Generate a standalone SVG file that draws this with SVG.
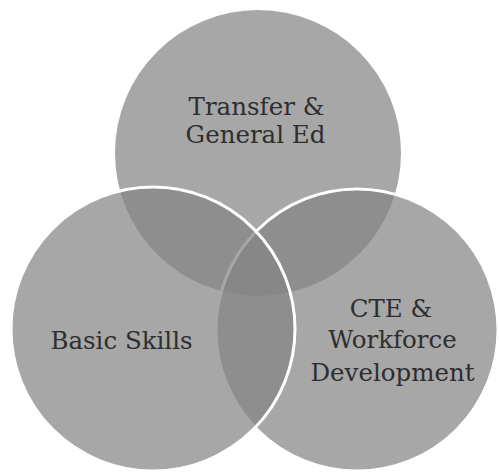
<svg xmlns="http://www.w3.org/2000/svg" width="499" height="473" viewBox="0 0 499 473">
  <style>
    .circle { fill: #858585; fill-opacity: 0.72; }
    .edge { stroke: #ffffff; stroke-width: 3; }
    .label { font-family: "DejaVu Serif", "Liberation Serif", serif; font-size: 24.5px; fill: #2e2e2e; text-anchor: middle; }
  </style>
  <rect width="499" height="473" fill="#ffffff"/>
  <g id="node-transfer">
    <circle class="circle" cx="258" cy="153" r="143"/>
    <text class="label" x="256.5" y="115">Transfer &amp;</text>
    <text class="label" x="255.5" y="143">General Ed</text>
  </g>
  <g id="node-cte">
    <circle class="circle edge" cx="357" cy="330" r="141"/>
    <text class="label" x="391" y="317">CTE &amp;</text>
    <text class="label" x="392.5" y="348">Workforce</text>
    <text class="label" x="392.5" y="381">Development</text>
  </g>
  <g id="node-basic">
    <circle class="circle edge" cx="153" cy="329" r="142"/>
    <text class="label" x="121.5" y="349">Basic Skills</text>
  </g>
  <g id="connectors"></g>
</svg>
